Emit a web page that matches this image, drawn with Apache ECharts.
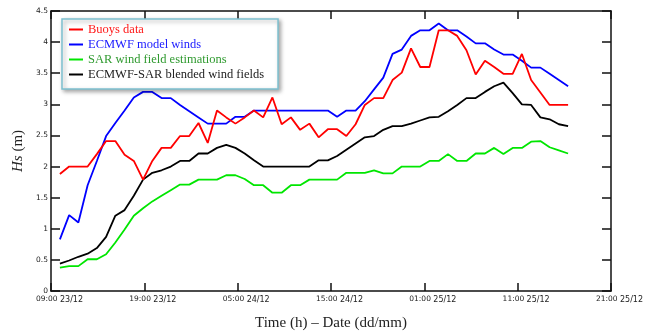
<!DOCTYPE html>
<html>
<head>
<meta charset="utf-8">
<script src="https://cdn.jsdelivr.net/npm/echarts@6/dist/echarts.min.js"></script>
<style>
html,body{margin:0;padding:0;background:#fff;}
#chart{width:646px;height:336px;}
</style>
</head>
<body>
<div id="chart"></div>
<script>
// Sample times: hours after 10:00 23/12 (hourly readings)
const sampleHours = [0,1,2,3,4,5,6,7,8,9,10,11,12,13,14,15,16,17,18,19,20,21,22,23,24,25,26,27,28,29,30,31,32,33,34,35,36,37,38,39,40,41,42,43,44,45,46,47,48,49,50,51,52,53,54,55];

const buoys = [1.88,2.00,2.00,2.00,2.20,2.41,2.41,2.19,2.09,1.79,
  2.09,2.30,2.30,2.49,2.49,2.70,2.38,2.90,2.79,2.69,
  2.79,2.90,2.79,3.11,2.68,2.79,2.59,2.69,2.47,2.60,
  2.60,2.49,2.68,2.99,3.10,3.10,3.39,3.51,3.90,3.60,
  3.60,4.19,4.19,4.10,3.87,3.48,3.70,3.60,3.49,3.49,
  3.81,3.39,3.19,2.99,2.99,2.99];

const ecmwf = [0.83,1.22,1.10,1.70,2.09,2.49,2.70,2.90,3.11,3.20,
  3.20,3.10,3.10,2.99,2.89,2.79,2.69,2.69,2.69,2.80,
  2.80,2.90,2.90,2.90,2.90,2.90,2.90,2.90,2.90,2.90,
  2.80,2.90,2.90,3.05,3.24,3.43,3.81,3.88,4.10,4.19,
  4.19,4.30,4.19,4.19,4.09,3.98,3.98,3.88,3.80,3.80,
  3.70,3.59,3.59,3.49,3.39,3.29];

const sar = [0.375,0.40,0.40,0.51,0.51,0.59,0.78,0.99,1.21,1.33,
  1.44,1.53,1.62,1.71,1.71,1.79,1.79,1.79,1.86,1.86,
  1.80,1.70,1.70,1.58,1.58,1.70,1.70,1.79,1.79,1.79,
  1.79,1.90,1.90,1.90,1.94,1.89,1.89,2.00,2.00,2.00,
  2.09,2.09,2.20,2.09,2.09,2.21,2.21,2.30,2.20,2.30,
  2.30,2.40,2.41,2.31,2.26,2.21];

const blended = [0.44,0.49,0.55,0.60,0.69,0.87,1.21,1.30,1.53,1.79,
  1.90,1.94,2.00,2.09,2.09,2.21,2.21,2.30,2.35,2.30,
  2.21,2.10,2.00,2.00,2.00,2.00,2.00,2.00,2.10,2.10,
  2.17,2.27,2.37,2.47,2.49,2.59,2.65,2.65,2.69,2.74,
  2.79,2.80,2.89,2.99,3.10,3.10,3.20,3.29,3.35,3.18,
  3.00,2.99,2.79,2.76,2.68,2.65];

const seriesNames = ['Buoys data','ECMWF model winds','SAR wind field estimations','ECMWF-SAR blended wind fields'];
const tickHours = [0,10,20,30,40,50,60];
const tickLabels = ['09:00 23/12','19:00 23/12','05:00 24/12','15:00 24/12','01:00 25/12','11:00 25/12','21:00 25/12'];

const lineColors = ['#ff0000','#0000ff','#00e600','#000000'];
const textColors = ['#ff1a1a','#1a1aff','#2f9a2f','#222222'];

function pairs(vals){ return sampleHours.map((h,i)=>[h, vals[i]]); }

const chart = echarts.init(document.getElementById('chart'), null, {renderer:'canvas'});
const axisLineStyle = {color:'#111', width:1.5};
const serif = 'Liberation Serif, Times New Roman, serif';

const option = {
  animation:false,
  backgroundColor:'#fff',
  grid:{left:51, right:29, top:11, bottom:45, containLabel:false},
  legend:{
    orient:'vertical', left:62, top:19,
    backgroundColor:'#fff',
    borderColor:'#7cc0cf', borderWidth:1.5,
    shadowBlur:4, shadowColor:'rgba(0,0,0,0.35)', shadowOffsetX:2, shadowOffsetY:2,
    padding:[4,14,8,7],
    itemGap:2, itemWidth:14, itemHeight:2,
    icon:'rect',
    textStyle:{fontFamily:serif, fontSize:12.5, lineHeight:13},
    data: seriesNames.map((n,i)=>({name:n, textStyle:{color:textColors[i]}}))
  },
  xAxis:[
    {type:'value', position:'bottom', min:0, max:60, interval:10,
     name:'Time (h) \u2013 Date (dd/mm)', nameLocation:'middle', nameGap:25,
     nameTextStyle:{fontFamily:serif, fontSize:15, color:'#222'},
     axisLine:{show:true, onZero:false, lineStyle:axisLineStyle},
     axisTick:{show:true, inside:true, length:8, lineStyle:{color:'#111', width:1.5}},
     splitLine:{show:false},
     axisLabel:{margin:4, fontFamily:'DejaVu Sans, sans-serif', fontSize:7.5, color:'#222',
       padding:[0,0,0,17],
       formatter:(v)=>{const k=tickHours.indexOf(Math.round(v)); if(k<0) return ''; const p=tickLabels[k].split(' '); return '{t|'+p[0]+'} {d|'+p[1]+'}';},
       rich:{t:{fontSize:7.5, color:'#222', fontFamily:'DejaVu Sans, sans-serif', padding:[0,0,2,0]}, d:{fontSize:8, color:'#222', fontFamily:'DejaVu Sans, sans-serif'}}
     }},
    {type:'value', position:'top', min:0, max:60, interval:10,
     axisLine:{show:true, onZero:false, lineStyle:axisLineStyle},
     axisTick:{show:true, inside:true, length:8, lineStyle:{color:'#111', width:1.5}},
     axisLabel:{show:false}, splitLine:{show:false}},
    {type:'value', show:false, min:-0.964, max:59.64, axisLine:{onZero:false}}
  ],
  yAxis:[
    {type:'value', position:'left', min:0, max:4.5, interval:0.5,
     name:'{i|Hs} (m)', nameLocation:'middle', nameGap:25,
     nameTextStyle:{fontFamily:serif, fontSize:15, color:'#222',
       rich:{i:{fontFamily:serif, fontSize:15, fontStyle:'italic', color:'#222'}}},
     axisLine:{show:true, onZero:false, lineStyle:axisLineStyle},
     axisTick:{show:true, inside:true, length:9, lineStyle:{color:'#111', width:1.5}},
     splitLine:{show:false},
     axisLabel:{margin:3, fontFamily:'DejaVu Sans, sans-serif', fontSize:7.5, color:'#222'}},
    {type:'value', position:'right', min:0, max:4.5, interval:0.5,
     axisLine:{show:true, onZero:false, lineStyle:axisLineStyle},
     axisTick:{show:true, inside:true, length:9, lineStyle:{color:'#111', width:1.5}},
     axisLabel:{show:false}, splitLine:{show:false}}
  ],
  series:[buoys, ecmwf, sar, blended].map((vals,i)=>({
    name:seriesNames[i], type:'line', xAxisIndex:2, yAxisIndex:0,
    data:pairs(vals), showSymbol:false, symbol:'none',
    lineStyle:{color:lineColors[i], width:1.8},
    itemStyle:{color:lineColors[i]},
    z: 4-i
  }))
};
chart.setOption(option);
</script>
</body>
</html>
